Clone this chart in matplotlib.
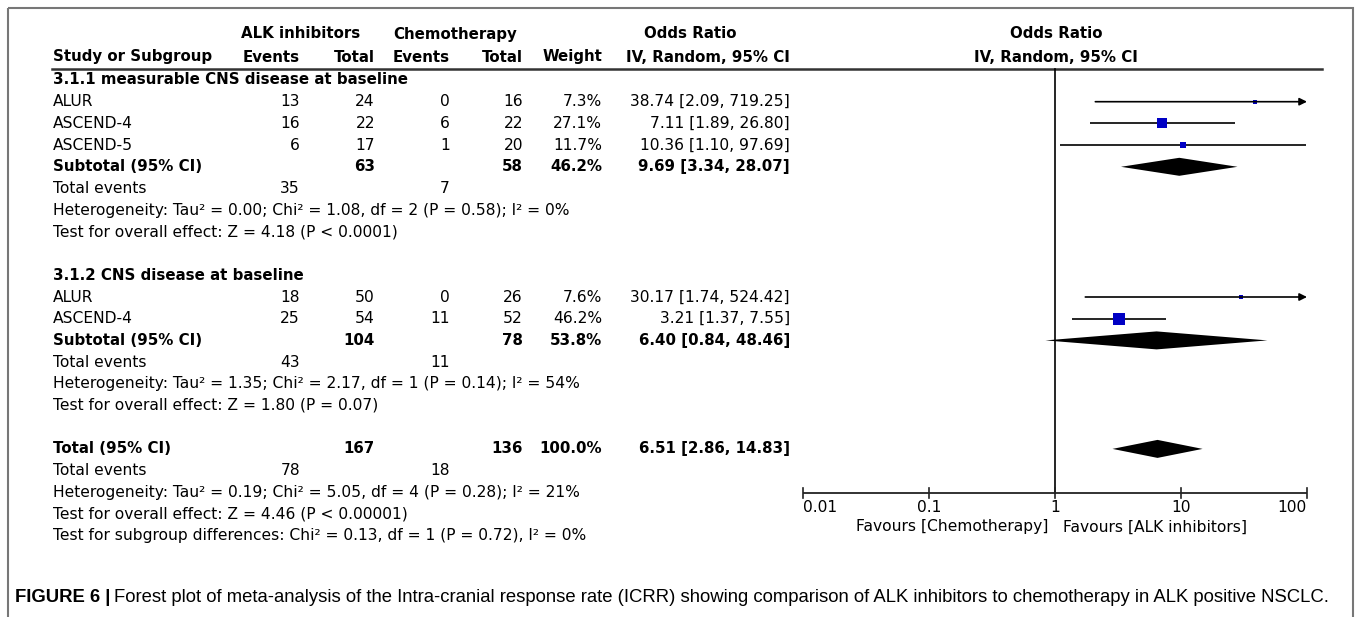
import matplotlib
matplotlib.use("Agg")
import matplotlib.pyplot as plt
from matplotlib.patches import Rectangle
import numpy as np

# ---- study data ----
group_titles = ["3.1.1 measurable CNS disease at baseline", "3.1.2 CNS disease at baseline"]
study_names = [["ALUR", "ASCEND-4", "ASCEND-5"], ["ALUR", "ASCEND-4"]]
alk_events = [[13, 16, 6], [18, 25]]
alk_totals = [[24, 22, 17], [50, 54]]
chemo_events = [[0, 6, 1], [0, 11]]
chemo_totals = [[16, 22, 20], [26, 52]]
weights = [[7.3, 27.1, 11.7], [7.6, 46.2]]
odds = [[38.74, 7.11, 10.36], [30.17, 3.21]]
ci_low = [[2.09, 1.89, 1.10], [1.74, 1.37]]
ci_high = [[719.25, 26.80, 97.69], [524.42, 7.55]]

# ---- subgroup summaries ----
sub_alk_total = [63, 104]
sub_chemo_total = [58, 78]
sub_weight = [46.2, 53.8]
sub_or = [9.69, 6.40]
sub_low = [3.34, 0.84]
sub_high = [28.07, 48.46]
sub_alk_events = [35, 43]
sub_chemo_events = [7, 11]
sub_heterogeneity = ["Heterogeneity: Tau² = 0.00; Chi² = 1.08, df = 2 (P = 0.58); I² = 0%",
                     "Heterogeneity: Tau² = 1.35; Chi² = 2.17, df = 1 (P = 0.14); I² = 54%"]
sub_effect = ["Test for overall effect: Z = 4.18 (P < 0.0001)",
              "Test for overall effect: Z = 1.80 (P = 0.07)"]

# ---- overall ----
total_alk_total = 167
total_chemo_total = 136
total_weight = 100.0
total_or = 6.51
total_low = 2.86
total_high = 14.83
total_alk_events = 78
total_chemo_events = 18
total_notes = ["Heterogeneity: Tau² = 0.19; Chi² = 5.05, df = 4 (P = 0.28); I² = 21%",
               "Test for overall effect: Z = 4.46 (P < 0.00001)",
               "Test for subgroup differences: Chi² = 0.13, df = 1 (P = 0.72), I² = 0%"]

axis_ticks = [0.01, 0.1, 1, 10, 100]
tick_labels = ["0.01", "0.1", "1", "10", "100"]
favours = ["Favours [Chemotherapy]", "Favours [ALK inhibitors]"]
caption_head = "FIGURE 6 |"
caption_body = ("Forest plot of meta-analysis of the Intra-cranial response rate (ICRR) showing "
                "comparison of ALK inhibitors to chemotherapy in ALK positive NSCLC.")

W, H = 1357, 617
FS = 11.2      # regular table text
FSB = 10.8     # bold headings / totals
BLUE = "#0000c4"
plt.rcParams["font.family"] = "DejaVu Sans"

fig = plt.figure(figsize=(W / 100, H / 100), dpi=100)
ax = fig.add_axes([0, 0, 1, 1])
ax.set_xlim(0, W)
ax.set_ylim(H, 0)
ax.axis("off")

# forest panel: log axis from 0.01 to 100 laid over pixels 803..1307
FX0, FX1 = 803, 1307
fx = fig.add_axes([FX0 / W, 0, (FX1 - FX0) / W, 1])
fx.set_xscale("log")
fx.set_xlim(0.01, 100)
fx.set_ylim(H, 0)
fx.axis("off")

X_NAME, X_AE, X_AT, X_CE, X_CT, X_W, X_OR = 53, 300, 375, 450, 523, 602, 790
Y0, DY = 80, 21.7
AXIS_Y = 493


def ry(i):
    return Y0 + DY * i


def put(x, y, s, ha="left", bold=False):
    ax.text(x, y, s, ha=ha, va="center", fontsize=FSB if bold else FS,
            fontweight="bold" if bold else "normal", color="black")


def study_mark(y, est, lo, hi, w):
    if hi > 100:
        fx.annotate("", xy=(100, y), xytext=(lo, y),
                    arrowprops=dict(arrowstyle="-|>", color="black", lw=1.2,
                                    mutation_scale=11, shrinkA=0, shrinkB=0),
                    annotation_clip=False)
    else:
        fx.plot([lo, hi], [y, y], color="black", lw=1.2, solid_capstyle="butt")
    side = 12 * np.sqrt(w / 46.2)
    fx.plot([est], [y], marker="s", ms=side * 0.72, color=BLUE, mec=BLUE,
            mew=0, clip_on=False)


def diamond(y, est, lo, hi):
    fx.fill([lo, est, hi, est], [y, y - 9, y, y + 9], color="black", lw=0)


# headers
hy1, hy2 = 34, 57
for x, s in [(301, "ALK inhibitors"), (455, "Chemotherapy"), (690, "Odds Ratio"), (1056, "Odds Ratio")]:
    put(x, hy1, s, ha="center", bold=True)
put(X_NAME, hy2, "Study or Subgroup", bold=True)
for x, s in [(X_AE, "Events"), (X_AT, "Total"), (X_CE, "Events"), (X_CT, "Total"),
             (X_W, "Weight"), (X_OR, "IV, Random, 95% CI")]:
    put(x, hy2, s, ha="right", bold=True)
put(1056, hy2, "IV, Random, 95% CI", ha="center", bold=True)
ax.plot([52, 1322], [69, 69], color="#333333", lw=1.8)

row = 0
for g in range(2):
    put(X_NAME, ry(row), group_titles[g], bold=True)
    row += 1
    for i, name in enumerate(study_names[g]):
        y = ry(row)
        put(X_NAME, y, name)
        put(X_AE, y, str(alk_events[g][i]), "right")
        put(X_AT, y, str(alk_totals[g][i]), "right")
        put(X_CE, y, str(chemo_events[g][i]), "right")
        put(X_CT, y, str(chemo_totals[g][i]), "right")
        put(X_W, y, f"{weights[g][i]:.1f}%", "right")
        put(X_OR, y, f"{odds[g][i]:.2f} [{ci_low[g][i]:.2f}, {ci_high[g][i]:.2f}]", "right")
        study_mark(y, odds[g][i], ci_low[g][i], ci_high[g][i], weights[g][i])
        row += 1
    y = ry(row)
    put(X_NAME, y, "Subtotal (95% CI)", bold=True)
    put(X_AT, y, str(sub_alk_total[g]), "right", bold=True)
    put(X_CT, y, str(sub_chemo_total[g]), "right", bold=True)
    put(X_W, y, f"{sub_weight[g]:.1f}%", "right", bold=True)
    put(X_OR, y, f"{sub_or[g]:.2f} [{sub_low[g]:.2f}, {sub_high[g]:.2f}]", "right", bold=True)
    diamond(y, sub_or[g], sub_low[g], sub_high[g])
    row += 1
    y = ry(row)
    put(X_NAME, y, "Total events")
    put(X_AE, y, str(sub_alk_events[g]), "right")
    put(X_CE, y, str(sub_chemo_events[g]), "right")
    put(X_NAME, ry(row + 1), sub_heterogeneity[g])
    put(X_NAME, ry(row + 2), sub_effect[g])
    row += 4

y = ry(row)
put(X_NAME, y, "Total (95% CI)", bold=True)
put(X_AT, y, str(total_alk_total), "right", bold=True)
put(X_CT, y, str(total_chemo_total), "right", bold=True)
put(X_W, y, f"{total_weight:.1f}%", "right", bold=True)
put(X_OR, y, f"{total_or:.2f} [{total_low:.2f}, {total_high:.2f}]", "right", bold=True)
diamond(y, total_or, total_low, total_high)
row += 1
y = ry(row)
put(X_NAME, y, "Total events")
put(X_AE, y, str(total_alk_events), "right")
put(X_CE, y, str(total_chemo_events), "right")
for k, s in enumerate(total_notes):
    put(X_NAME, ry(row + 1 + k), s)

# line of no effect and scale
fx.plot([1, 1], [69, AXIS_Y], color="black", lw=1.2)
fx.plot([axis_ticks[0], axis_ticks[-1]], [AXIS_Y, AXIS_Y], color="#222222", lw=1.3)
for t, lab, ha in zip(axis_ticks, tick_labels, ["left", "center", "center", "center", "right"]):
    fx.plot([t, t], [AXIS_Y - 5, AXIS_Y + 5], color="#222222", lw=1.2, clip_on=False)
    fx.text(t, AXIS_Y + 14, lab, ha=ha, va="center", fontsize=FS, clip_on=False)
fx.annotate(favours[0], xy=(1, AXIS_Y + 34), xytext=(-5, 0), textcoords="offset points",
            ha="right", va="center", fontsize=FS, annotation_clip=False)
fx.annotate(favours[1], xy=(1, AXIS_Y + 34), xytext=(6, 0), textcoords="offset points",
            ha="left", va="center", fontsize=FS, annotation_clip=False)

# frame
ax.add_patch(Rectangle((8, 8), W - 12, H + 40, fill=False, ec="#777777", lw=1.5))

# caption
cap_font = ["Liberation Sans Narrow", "Liberation Sans", "DejaVu Sans"]
CY = 597
t1 = ax.text(15, CY, caption_head, ha="left", va="center", fontsize=13.3,
             fontweight="bold", family=cap_font)
fig.canvas.draw()
x_end = t1.get_window_extent().x1
ax.text(x_end + 4, CY, caption_body, ha="left", va="center", fontsize=13.3, family=cap_font)

fig.savefig("out.png", dpi=100)
